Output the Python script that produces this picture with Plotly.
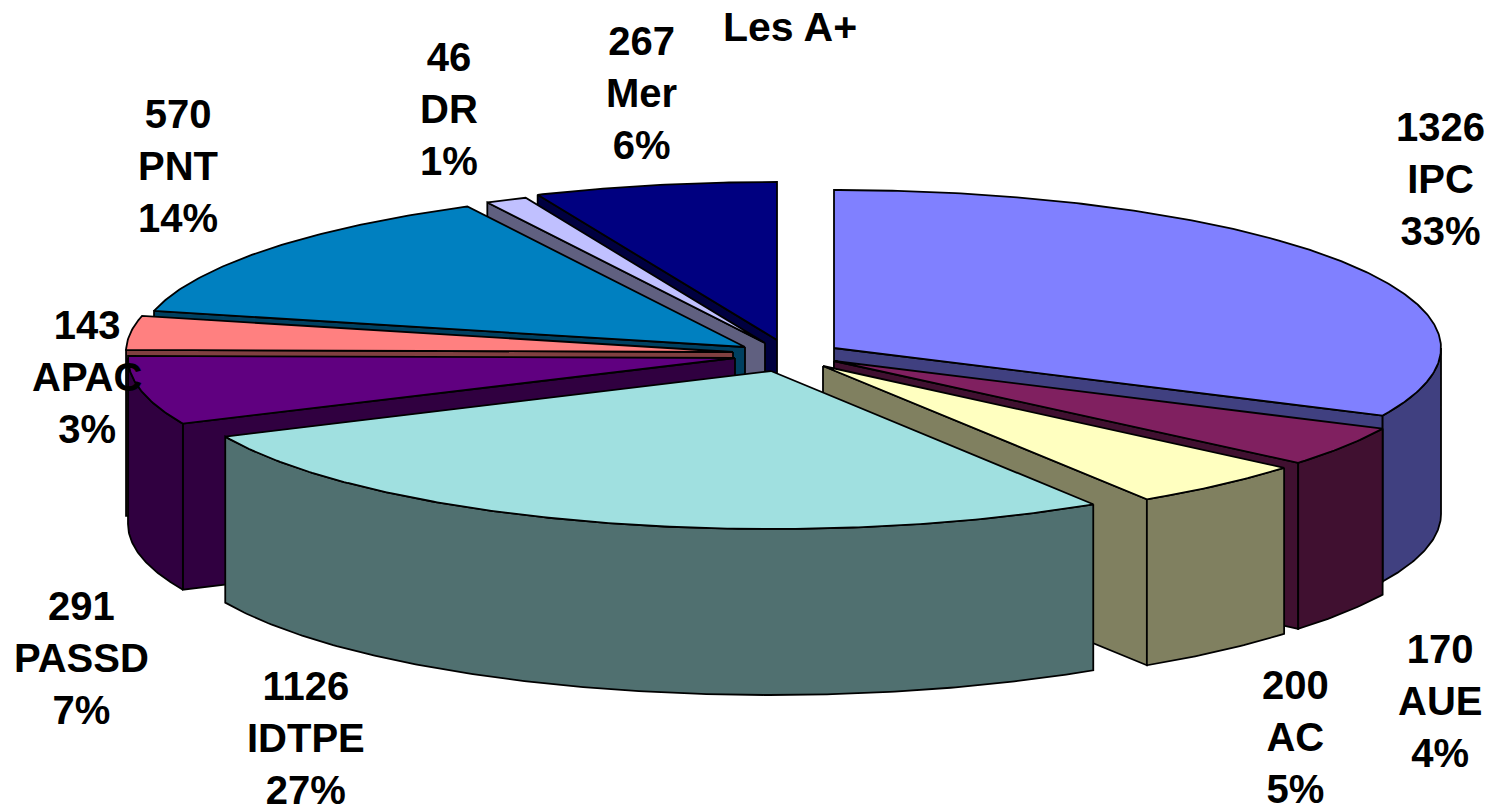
import math
import plotly.graph_objects as go

# --- data ---
categories = ["IPC", "AUE", "AC", "IDTPE", "PASSD", "APAC", "PNT", "DR", "Mer"]
values = [1326, 170, 200, 1126, 291, 143, 570, 46, 267]
percent_labels = ["33%", "4%", "5%", "27%", "7%", "3%", "14%", "1%", "6%"]
title_text = "Les A+"

# --- styling ---
top_colors = ["#8080FF", "#802060", "#FFFFC0", "#A0E0E0", "#600080", "#FF8080", "#0080C0", "#C0C0FF", "#000080"]
side_colors = ["#404080", "#401030", "#808060", "#507070", "#300040", "#804040", "#004060", "#606080", "#000040"]
apex_x = [834, 834, 823, 771, 735, 733, 745, 765, 777]
apex_y = [348, 361, 366, 371, 358, 352, 347, 343, 340]
radius_x = [607, 607, 603, 600, 607, 607, 607, 607, 607]
label_x = [1440, 1440, 1295, 306, 81, 87, 178, 449, 641]
label_y = [179, 701, 737, 738, 658, 377, 166, 109, 93]
draw_order = [0, 8, 7, 6, 5, 4, 1, 2, 3]
RY, DEPTH = 158, 166
FONT = "Liberation Sans, Arial, sans-serif"
FONT_SIZE = 40
TITLE_SIZE = 41
LINE_W = 1.8

total = sum(values)
angles = [0.0]
for v in values:
    angles.append(angles[-1] + v / total * 360.0)


def rim_point(i, deg, dy=0):
    t = math.radians(deg)
    return apex_x[i] + radius_x[i] * math.sin(t), apex_y[i] - RY * math.cos(t) + dy


def arc(i, a0, a1, dy=0):
    n = max(2, int(abs(a1 - a0) * 2))
    return [rim_point(i, a0 + (a1 - a0) * k / n, dy) for k in range(n + 1)]


fig = go.Figure()


def poly(points, color):
    xs = [p[0] for p in points] + [points[0][0]]
    ys = [p[1] for p in points] + [points[0][1]]
    fig.add_trace(go.Scatter(x=xs, y=ys, mode="lines", fill="toself", fillcolor=color,
                             line=dict(color="black", width=LINE_W), hoverinfo="skip", showlegend=False))


for i in draw_order:
    a0, a1 = angles[i], angles[i + 1]
    side = side_colors[i]
    apex = (apex_x[i], apex_y[i])
    apex_low = (apex_x[i], apex_y[i] + DEPTH)
    # only the cut faces that turn towards the viewer
    if math.sin(math.radians(a0)) < 0:
        poly([apex, rim_point(i, a0), rim_point(i, a0, DEPTH), apex_low], side)
    if math.sin(math.radians(a1)) > 0:
        poly([apex, rim_point(i, a1), rim_point(i, a1, DEPTH), apex_low], side)
    lo, hi = max(a0, 90), min(a1, 270)
    if hi > lo:
        poly(arc(i, lo, hi) + arc(i, hi, lo, DEPTH), side)
    poly([apex] + arc(i, a0, a1), top_colors[i])

for i, name in enumerate(categories):
    fig.add_annotation(x=label_x[i], y=label_y[i], xref="x", yref="y", showarrow=False,
                       text=f"<b>{values[i]}<br>{name}<br>{percent_labels[i]}</b>", align="center",
                       font=dict(family=FONT, size=FONT_SIZE, color="black"))
fig.add_annotation(x=790, y=27, xref="x", yref="y", showarrow=False, text=f"<b>{title_text}</b>",
                   font=dict(family=FONT, size=TITLE_SIZE, color="black"))

fig.update_layout(width=1501, height=811, margin=dict(l=0, r=0, t=0, b=0), paper_bgcolor="white",
                  plot_bgcolor="white", showlegend=False,
                  xaxis=dict(range=[0, 1501], visible=False, fixedrange=True),
                  yaxis=dict(range=[811, 0], visible=False, fixedrange=True))
fig.write_html("out.html", config={"displayModeBar": False},
               post_script="document.body.style.margin='0';document.body.style.overflow='hidden';")
